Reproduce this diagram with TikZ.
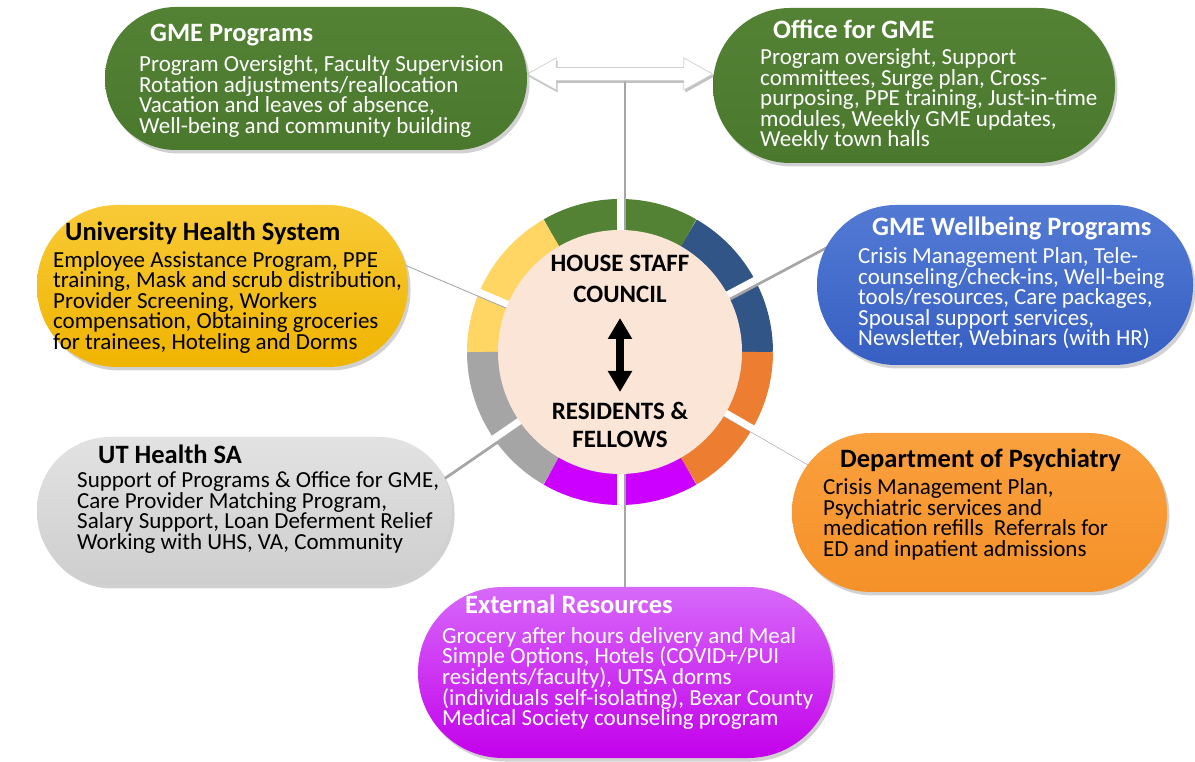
\documentclass[tikz,border=0pt]{standalone}
\usepackage{fontspec}
\setmainfont{Carlito}
\usetikzlibrary{arrows.meta,calc}
\pgfdeclarelayer{bg}
\pgfsetlayers{bg,main}
\definecolor{ringgrn}{RGB}{84,130,53}
\definecolor{ringblue}{RGB}{50,85,135}
\definecolor{ringyel}{RGB}{255,214,100}
\definecolor{ringgray}{RGB}{165,165,165}
\definecolor{ringpur}{RGB}{204,0,255}
\definecolor{ringora}{RGB}{237,125,49}
\definecolor{peach}{RGB}{251,229,214}
\definecolor{grnT}{RGB}{84,130,53}
\definecolor{grnB}{RGB}{74,120,45}
\definecolor{yelT}{RGB}{248,202,55}
\definecolor{yelB}{RGB}{240,180,0}
\definecolor{bluT}{RGB}{82,122,212}
\definecolor{bluB}{RGB}{55,95,195}
\definecolor{gryT}{RGB}{226,226,226}
\definecolor{gryB}{RGB}{206,206,206}
\definecolor{oraT}{RGB}{250,160,62}
\definecolor{oraB}{RGB}{245,145,40}
\definecolor{purT}{RGB}{215,105,250}
\definecolor{purB}{RGB}{195,0,235}
\tikzset{
  pill/.style={inner sep=0pt, draw=none,
    preaction={fill=black!30, opacity=0.6, transform canvas={shift={(2.5pt,-3.5pt)}}}},
  ttl/.style={anchor=base west, inner sep=0pt, font=\fontsize{26.5}{28}\bfseries\selectfont},
  bdy/.style={anchor=base west, inner sep=0pt, font=\fontsize{23}{20}\selectfont},
  ctr/.style={anchor=base, inner sep=0pt, font=\fontsize{25}{28}\bfseries\selectfont},
  connshadow/.style={line width=7pt, black!35, transform canvas={shift={(2.2pt,-2pt)}}},
  conn/.style={line width=7pt, white},
  ringseg/.style={line width=32pt},
}
\begin{document}
\begin{tikzpicture}[x=1pt,y=1pt]
\useasboundingbox (0,0) rectangle (1195,761);
% hub
\node[circle, fill=peach, minimum size=244pt, inner sep=0pt] (hub) at (620,409) {};
% boxes
\node[pill, minimum width=422pt, minimum height=143pt, rounded corners=71pt, top color=grnT, bottom color=grnB] (gp) at (316,682.5) {};
\node[pill, minimum width=402pt, minimum height=155pt, rounded corners=77pt, top color=grnT, bottom color=grnB] (og) at (914,675.5) {};
\node[pill, minimum width=371pt, minimum height=162pt, rounded corners=80pt, top color=yelT, bottom color=yelB] (uhs) at (222.5,475) {};
\node[pill, minimum width=376pt, minimum height=160pt, rounded corners=79pt, top color=bluT, bottom color=bluB] (wb) at (1005,476) {};
\node[pill, minimum width=415pt, minimum height=148pt, rounded corners=73pt, top color=gryT, bottom color=gryB] (ut) at (244.5,250) {};
\node[pill, minimum width=375pt, minimum height=159pt, rounded corners=79pt, top color=oraT, bottom color=oraB] (ps) at (979.5,248.5) {};
\node[pill, minimum width=415pt, minimum height=171pt, rounded corners=85pt, top color=purT, bottom color=purB] (er) at (625.5,88.5) {};

% coordinates for connector free ends
\coordinate (c-wb) at ($(hub.center)+(28:258)$);
\coordinate (c-uhs) at ($(hub.center)+(157:258)$);
\coordinate (c-ut) at ($(hub.center)+(214.5:258)$);
\coordinate (c-ps) at ($(hub.center)+(330:250)$);
\coordinate (c-top) at (620,687);
\coordinate (c-er) at (620,150);
\coordinate (al) at (gp.east |- c-top);
\coordinate (ar) at (og.west |- c-top);

\begin{pgfonlayer}{bg}
  \foreach \a/\b/\c in {0/60/ringblue,60/120/ringgrn,120/180/ringyel,180/240/ringgray,240/300/ringpur,300/360/ringora}
    \draw[ringseg, \c] ($(hub.center)+(\a:137)$) arc[start angle=\a, end angle=\b, radius=137];
  \foreach \e in {c-wb,c-uhs,c-ut,c-ps,c-top,c-er}
    \draw[connshadow, shorten <=-8pt] (hub) -- (\e);
  \foreach \e in {c-wb,c-uhs,c-ut,c-ps,c-top,c-er}
    \draw[conn, shorten <=-8pt] (hub) -- (\e);
  % top double arrow between GME Programs and Office for GME
  \fill[black!30, opacity=0.8, transform canvas={shift={(1.5pt,-2.5pt)}}]
    (al) -- ($(al)+(29,16)$) -- ($(al)+(29,6.5)$) -- ($(ar)+(-29,6.5)$) -- ($(ar)+(-29,16)$) -- (ar)
    -- ($(ar)+(-29,-16)$) -- ($(ar)+(-29,-6.5)$) -- ($(al)+(29,-6.5)$) -- ($(al)+(29,-16)$) -- cycle;
  \filldraw[fill=white, draw=black!18, line width=0.8pt, line join=miter]
    (al) -- ($(al)+(29,16)$) -- ($(al)+(29,6.5)$) -- ($(ar)+(-29,6.5)$) -- ($(ar)+(-29,16)$) -- (ar)
    -- ($(ar)+(-29,-16)$) -- ($(ar)+(-29,-6.5)$) -- ($(al)+(29,-6.5)$) -- ($(al)+(29,-16)$) -- cycle;
\end{pgfonlayer}

% hub texts and arrow
\node[ctr] (hs1) at (620,489) {HOUSE STAFF};
\node[ctr] (hs2) at (620,458) {COUNCIL};
\node[ctr] (rf1) at (620,341) {RESIDENTS \&};
\node[ctr] (rf2) at (620,313) {FELLOWS};
\coordinate (ca1) at (620,443);
\coordinate (ca2) at (620,369);
\draw[line width=8pt, {Triangle[width=23pt,length=21pt]}-{Triangle[width=23pt,length=21pt]}] (ca1) -- (ca2);

% GME Programs
\node[ttl, text=white] (gp-t) at (150,719) {GME Programs};
\foreach \t [count=\i from 0] in {{Program Oversight, Faculty Supervision},{Rotation adjustments/reallocation},{Vacation and leaves of absence,},{Well-being and community building}}
  \node[bdy, text=white] (gp-\i) at (139,689-20.5*\i) {\t};
% Office for GME
\node[ttl, text=white] (og-t) at (773,722.5) {Office for GME};
\foreach \t [count=\i from 0] in {{Program oversight, Support},{committees, Surge plan, Cross-},{purposing, PPE training, Just-in-time},{modules, Weekly GME updates,},{Weekly town halls}}
  \node[bdy, text=white] (og-\i) at (760,696-20.5*\i) {\t};
% University Health System
\node[ttl] (uhs-t) at (65,520.5) {University Health System};
\foreach \t [count=\i from 0] in {{Employee Assistance Program, PPE},{training, Mask and scrub distribution,},{Provider Screening, Workers},{compensation, Obtaining groceries},{for trainees, Hoteling and Dorms}}
  \node[bdy] (uhs-\i) at (53,493.5-20.5*\i) {\t};
% GME Wellbeing Programs
\node[ttl, text=white] (wb-t) at (872,525) {GME Wellbeing Programs};
\foreach \t [count=\i from 0] in {{Crisis Management Plan, Tele-},{counseling/check-ins, Well-being},{tools/resources, Care packages,},{Spousal support services,},{Newsletter, Webinars (with HR)}}
  \node[bdy, text=white] (wb-\i) at (858,497-20.5*\i) {\t};
% UT Health SA
\node[ttl] (ut-t) at (98,297) {UT Health SA};
\foreach \t [count=\i from 0] in {{Support of Programs \& Office for GME,},{Care Provider Matching Program,},{Salary Support, Loan Deferment Relief},{Working with UHS, VA, Community}}
  \node[bdy] (ut-\i) at (77,273-20.5*\i) {\t};
% Department of Psychiatry
\node[ttl] (ps-t) at (840,293) {Department of Psychiatry};
\foreach \t [count=\i from 0] in {{Crisis Management Plan,},{Psychiatric services and},{medication refills\ \ Referrals for},{ED and inpatient admissions}}
  \node[bdy] (ps-\i) at (823,266-20.5*\i) {\t};
% External Resources
\node[ttl, text=white] (er-t) at (465,147) {External Resources};
\foreach \t [count=\i from 0] in {{Grocery after hours delivery and Meal},{Simple Options, Hotels (COVID+/PUI},{residents/faculty), UTSA dorms},{(individuals self-isolating), Bexar County},{Medical Society counseling program}}
  \node[bdy, text=white] (er-\i) at (442,117.5-20.5*\i) {\t};
\end{tikzpicture}
\end{document}
